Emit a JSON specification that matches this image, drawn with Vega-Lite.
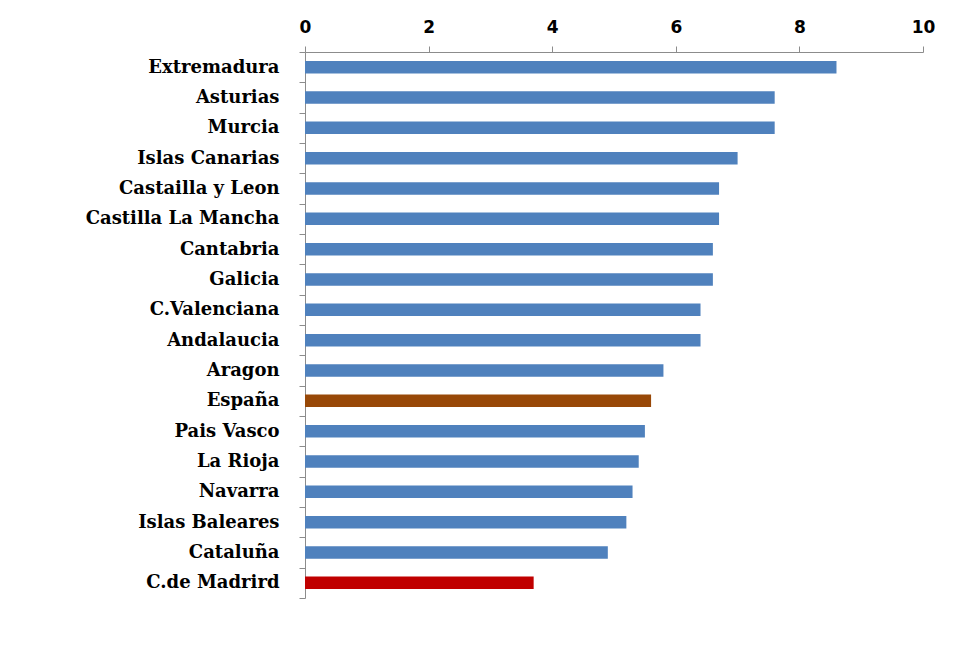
{
  "$schema": "https://vega.github.io/schema/vega-lite/v6.json",
  "width": 618,
  "height": 546,
  "autosize": {"type": "none"},
  "padding": {"left": 305, "top": 52, "right": 33, "bottom": 61},
  "background": "white",
  "config": {"view": {"stroke": null}},
  "data": {
    "values": [
      {"region": "Extremadura", "value": 8.6, "group": "normal"},
      {"region": "Asturias", "value": 7.6, "group": "normal"},
      {"region": "Murcia", "value": 7.6, "group": "normal"},
      {"region": "Islas Canarias", "value": 7.0, "group": "normal"},
      {"region": "Castailla y Leon", "value": 6.7, "group": "normal"},
      {"region": "Castilla La Mancha", "value": 6.7, "group": "normal"},
      {"region": "Cantabria", "value": 6.6, "group": "normal"},
      {"region": "Galicia", "value": 6.6, "group": "normal"},
      {"region": "C.Valenciana", "value": 6.4, "group": "normal"},
      {"region": "Andalaucia", "value": 6.4, "group": "normal"},
      {"region": "Aragon", "value": 5.8, "group": "normal"},
      {"region": "España", "value": 5.6, "group": "spain"},
      {"region": "Pais Vasco", "value": 5.5, "group": "normal"},
      {"region": "La Rioja", "value": 5.4, "group": "normal"},
      {"region": "Navarra", "value": 5.3, "group": "normal"},
      {"region": "Islas Baleares", "value": 5.2, "group": "normal"},
      {"region": "Cataluña", "value": 4.9, "group": "normal"},
      {"region": "C.de Madrird", "value": 3.7, "group": "madrid"}
    ]
  },
  "mark": {"type": "bar", "height": 12.5},
  "encoding": {
    "y": {
      "field": "region",
      "type": "nominal",
      "sort": null,
      "title": null,
      "scale": {"paddingInner": 0, "paddingOuter": 0},
      "axis": {
        "orient": "left",
        "tickBand": "extent",
        "domainColor": "#8c8c8c",
        "tickColor": "#8c8c8c",
        "tickSize": 6,
        "labelPadding": 20,
        "labelFont": "DejaVu Serif",
        "labelFontWeight": "bold",
        "labelFontSize": 18,
        "labelColor": "black",
        "labelBaseline": "middle",
        "labelLimit": 300
      }
    },
    "x": {
      "field": "value",
      "type": "quantitative",
      "title": null,
      "scale": {"domain": [0, 10], "nice": false},
      "axis": {
        "orient": "top",
        "values": [0, 2, 4, 6, 8, 10],
        "grid": false,
        "domainColor": "#8c8c8c",
        "tickColor": "#8c8c8c",
        "tickSize": 6,
        "labelPadding": 10,
        "labelFont": "DejaVu Sans",
        "labelFontWeight": "bold",
        "labelFontSize": 17,
        "labelColor": "black",
        "labelFlush": false
      }
    },
    "color": {
      "field": "group",
      "type": "nominal",
      "legend": null,
      "scale": {"domain": ["normal", "spain", "madrid"], "range": ["#4F81BD", "#984807", "#C00000"]}
    }
  }
}
